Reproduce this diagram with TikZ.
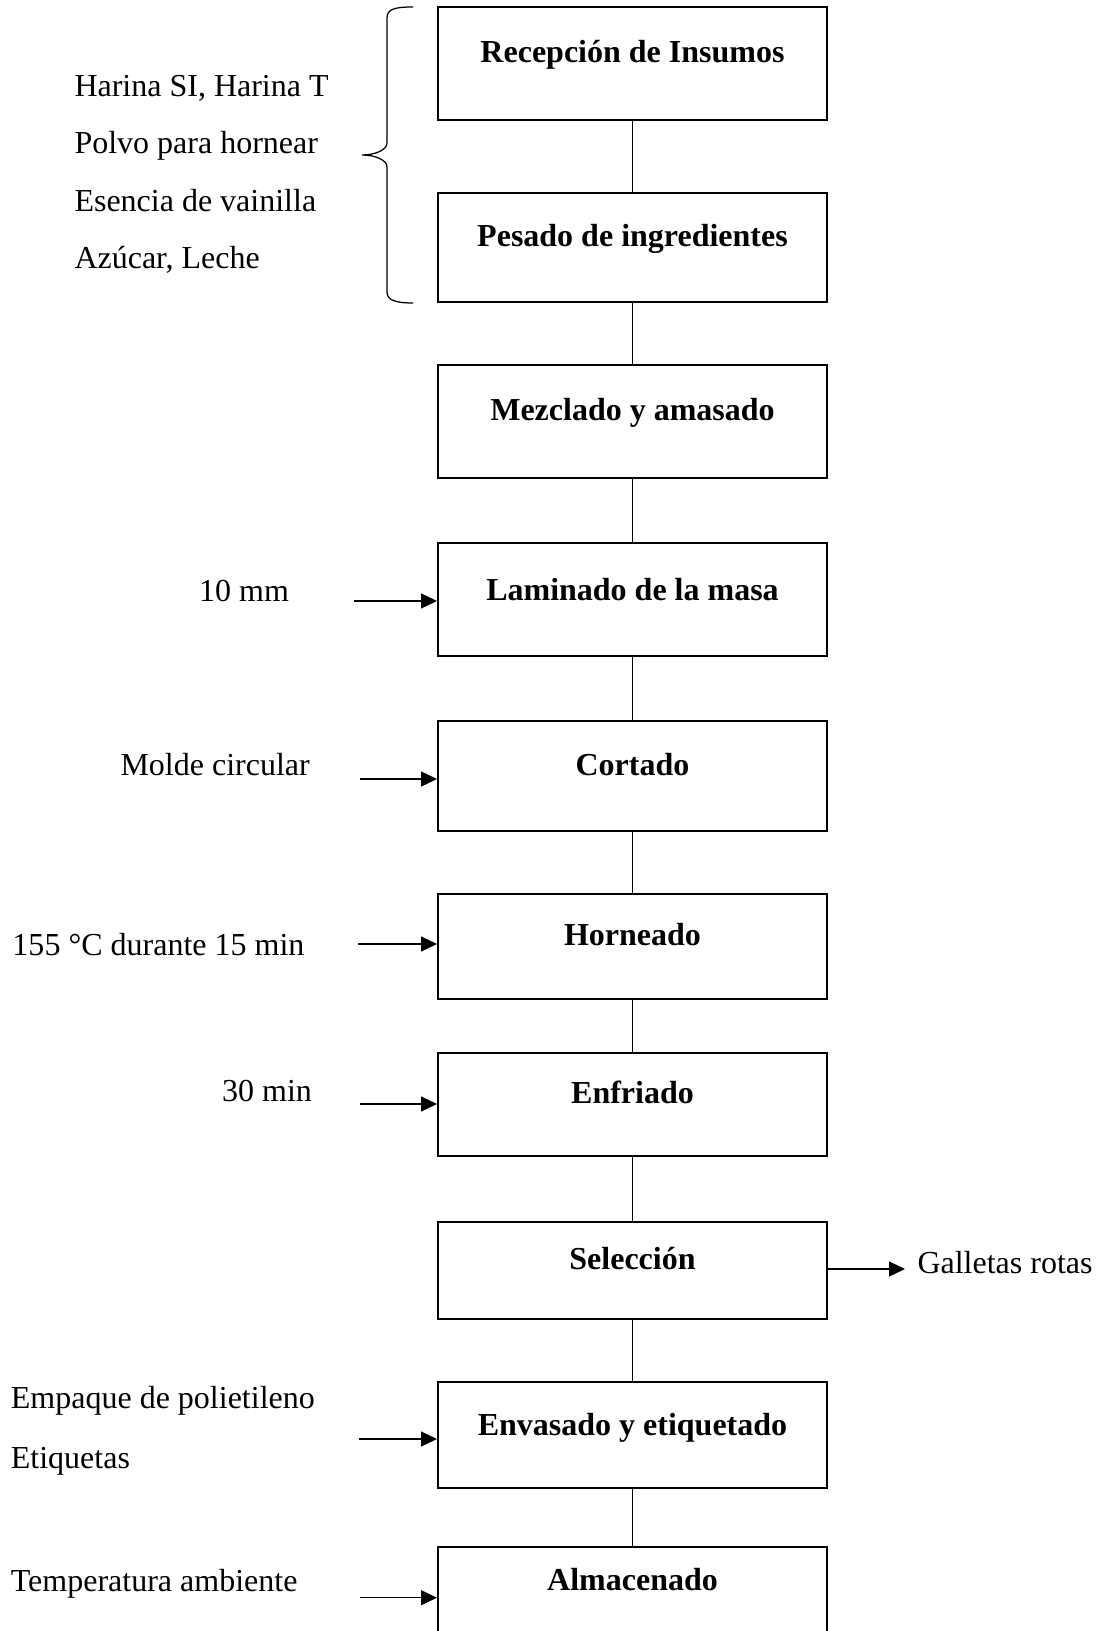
\documentclass[tikz,border=0pt]{standalone}
\usepackage{fontspec}
\setmainfont{Liberation Serif}
\usetikzlibrary{arrows.meta}
\newcommand{\chartfont}{\fontsize{12.8pt}{15pt}\selectfont}
\begin{document}
\begin{tikzpicture}[x=0.4pt, y=-0.4pt,
  stepbox/.style={draw, line width=0.8pt, rectangle, minimum width=155.6pt, inner sep=0pt},
  steptext/.style={anchor=base, inner sep=0pt, font=\chartfont\bfseries},
  sidetext/.style={anchor=base west, inner sep=0pt, font=\chartfont},
  link/.style={line width=0.4pt},
  feed/.style={line width=0.5pt, -{Triangle[length=6.4pt, width=6pt]}}]
\useasboundingbox (0,0) rectangle (1096,1631);

% process boxes
\node[stepbox, minimum height=45.2pt] (b1) at (632.5,63.5) {};
\node[stepbox, minimum height=43.6pt] (b2) at (632.5,247.5) {};
\node[stepbox, minimum height=45.2pt] (b3) at (632.5,421.5) {};
\node[stepbox, minimum height=45.2pt] (b4) at (632.5,599.5) {};
\node[stepbox, minimum height=44pt]   (b5) at (632.5,776) {};
\node[stepbox, minimum height=42pt]   (b6) at (632.5,946.5) {};
\node[stepbox, minimum height=41.2pt] (b7) at (632.5,1104.5) {};
\node[stepbox, minimum height=38.8pt] (b8) at (632.5,1270) {};
\node[stepbox, minimum height=42.4pt] (b9) at (632.5,1435) {};
\node[stepbox, minimum height=42.4pt] (b10) at (632.5,1600) {};

% box titles
\node[steptext] (t1) at (632.5,63) {Recepción de Insumos};
\node[steptext] (t2) at (632.5,247) {Pesado de ingredientes};
\node[steptext] (t3) at (632.5,421) {Mezclado y amasado};
\node[steptext] (t4) at (632.5,600) {Laminado de la masa};
\node[steptext] (t5) at (632.5,775) {Cortado};
\node[steptext] (t6) at (632.5,945) {Horneado};
\node[steptext] (t7) at (632.5,1103) {Enfriado};
\node[steptext] (t8) at (632.5,1269) {Selección};
\node[steptext] (t9) at (632.5,1435) {Envasado y etiquetado};
\node[steptext] (t10) at (632.5,1590) {Almacenado};

% vertical links
\foreach \a/\b in {b1/b2,b2/b3,b3/b4,b4/b5,b5/b6,b6/b7,b7/b8,b8/b9,b9/b10}
  \draw[link] (\a.south) -- (\b.north);

% ingredients and brace
\node[sidetext] (i1) at (74,97) {Harina SI, Harina T};
\node[sidetext] (i2) at (74,153.7) {Polvo para hornear};
\node[sidetext] (i3) at (74,211.3) {Esencia de vainilla};
\node[sidetext] (i4) at (74,268.7) {Azúcar, Leche};
\draw[line width=0.5pt] (413,7) .. controls (395,7) and (387,9) .. (387,18)
  -- (387,143) .. controls (387,150) and (375,155) .. (362,155)
  .. controls (375,155) and (387,160) .. (387,167)
  -- (387,292) .. controls (387,300) and (395,303) .. (413,303);

% side inputs
\node[sidetext] (l4) at (198.6,601) {10 mm};
\coordinate (a4) at (353.5,601);
\draw[feed] (a4) -- (a4 -| b4.west);

\node[sidetext] (l5) at (120,775) {Molde circular};
\coordinate (a5) at (360,779);
\draw[feed] (a5) -- (a5 -| b5.west);

\node[sidetext] (l6) at (12,955) {155 °C durante 15 min};
\coordinate (a6) at (358,944);
\draw[feed] (a6) -- (a6 -| b6.west);

\node[sidetext] (l7) at (221.7,1101.7) {30 min};
\coordinate (a7) at (360,1104);
\draw[feed] (a7) -- (a7 -| b7.west);

\node[sidetext] (l8) at (917,1273) {Galletas rotas};
\coordinate (a8) at (905,1269);
\draw[feed] (a8 -| b8.east) -- (a8);

\node[sidetext] (l9a) at (10.4,1408) {Empaque de polietileno};
\node[sidetext] (l9b) at (10.4,1468) {Etiquetas};
\coordinate (a9) at (358.7,1439);
\draw[feed] (a9) -- (a9 -| b9.west);

\node[sidetext] (l10) at (10.4,1591.7) {Temperatura ambiente};
\coordinate (a10) at (360,1597.7);
\draw[feed] (a10) -- (a10 -| b10.west);
\end{tikzpicture}
\end{document}
